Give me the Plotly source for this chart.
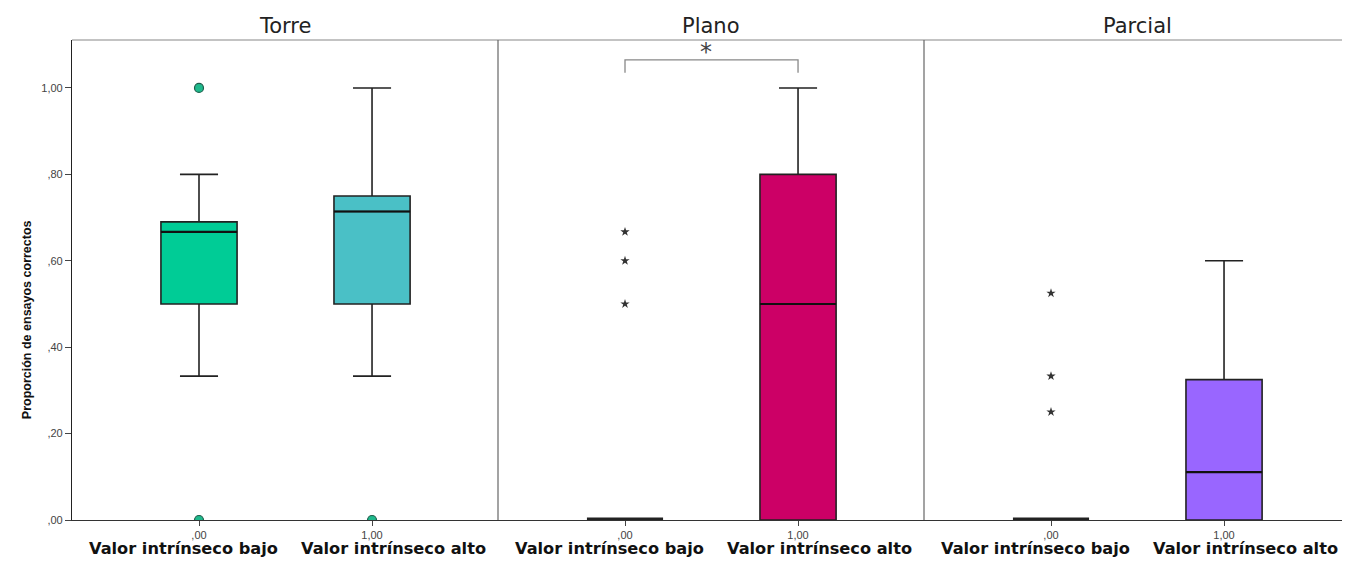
import plotly.graph_objects as go
from plotly.subplots import make_subplots

# ---- data ----
panels = ["Torre", "Plano", "Parcial"]
group_codes = [0, 1]
group_ticks = [",00", "1,00"]
group_names = ["Valor intrínseco bajo", "Valor intrínseco alto"]

# box statistics per panel: [low, high]
q1 = {"Torre": [0.50, 0.50], "Plano": [0.0, 0.0], "Parcial": [0.0, 0.0]}
median = {"Torre": [0.667, 0.714], "Plano": [0.0, 0.50], "Parcial": [0.0, 0.111]}
q3 = {"Torre": [0.69, 0.75], "Plano": [0.0, 0.80], "Parcial": [0.0, 0.325]}
lowerfence = {"Torre": [0.333, 0.333], "Plano": [0.0, 0.0], "Parcial": [0.0, 0.0]}
upperfence = {"Torre": [0.80, 1.00], "Plano": [0.0, 1.00], "Parcial": [0.0, 0.60]}

# outliers (circles) and extremes (stars): list per group
outliers = {"Torre": [[1.0, 0.0], [0.0]], "Plano": [[], []], "Parcial": [[], []]}
extremes = {"Torre": [[], []], "Plano": [[0.667, 0.60, 0.50], []], "Parcial": [[0.525, 0.333, 0.25], []]}

box_colors = {"Torre": ["#00CC96", "#4AC0C6"], "Plano": ["#111111", "#CC0066"], "Parcial": ["#111111", "#9966FF"]}

y_ticks = [0, 0.2, 0.4, 0.6, 0.8, 1.0]
y_ticktext = [",00", ",20", ",40", ",60", ",80", "1,00"]

BOX_W = 0.44
LABEL_SHIFT = [-16, 21]   # pixel offset of the bold group labels

# ---- figure ----
fig = make_subplots(rows=1, cols=3, shared_yaxes=True, horizontal_spacing=0,
                    subplot_titles=panels)

for c, p in enumerate(panels, start=1):
    for g in group_codes:
        flat = q3[p][g] == q1[p][g]
        fig.add_trace(go.Box(
            x=[g], q1=[q1[p][g]], median=[median[p][g]], q3=[q3[p][g]],
            lowerfence=[lowerfence[p][g]], upperfence=[upperfence[p][g]],
            boxpoints=False, width=BOX_W, whiskerwidth=0.5,
            fillcolor=box_colors[p][g],
            line=dict(color="#222222", width=5 if flat else 1.6),
            showlegend=False, hoverinfo="skip"), row=1, col=c)
        if not flat:
            # thicker median line, as in the original
            fig.add_trace(go.Scatter(
                x=[g - BOX_W / 2, g + BOX_W / 2], y=[median[p][g]] * 2,
                mode="lines", line=dict(color="#111111", width=2.2),
                showlegend=False, hoverinfo="skip"), row=1, col=c)
        if outliers[p][g]:
            fig.add_trace(go.Scatter(
                x=[g] * len(outliers[p][g]), y=outliers[p][g], mode="markers",
                marker=dict(symbol="circle", size=9, color="#1FB98C",
                            line=dict(color="#1E5E4C", width=1.2)),
                showlegend=False, hoverinfo="skip"), row=1, col=c)
        if extremes[p][g]:
            fig.add_trace(go.Scatter(
                x=[g] * len(extremes[p][g]), y=extremes[p][g], mode="markers",
                marker=dict(symbol="star", size=7, color="#333333",
                            line=dict(width=0)),
                showlegend=False, hoverinfo="skip"), row=1, col=c)

x_range = [-0.734, 1.728]
for c in range(1, 4):
    fig.update_xaxes(range=x_range, tickvals=group_codes, ticktext=group_ticks,
                     ticks="outside", ticklen=5, tickcolor="#444", tickwidth=1,
                     showline=True, linecolor="#333", linewidth=1.2,
                     showgrid=False, zeroline=False,
                     tickfont=dict(family="Liberation Sans", size=11, color="#444"),
                     row=1, col=c)
    for g in group_codes:
        fig.add_annotation(x=g, y=-0.036, xref=f"x{'' if c == 1 else c}", yref="paper",
                           text=f"<b>{group_names[g]}</b>", showarrow=False,
                           yanchor="top", xshift=LABEL_SHIFT[g],
                           font=dict(family="DejaVu Sans", size=16.2, color="#111"))

fig.update_yaxes(range=[0, 1.111], tickvals=y_ticks, ticktext=y_ticktext,
                 showgrid=False, zeroline=False,
                 tickfont=dict(family="Liberation Sans", size=11, color="#444"))
fig.update_yaxes(showline=True, linecolor="#222", linewidth=1.2,
                 ticks="outside", ticklen=6, tickcolor="#444", row=1, col=1)
fig.update_yaxes(ticks="", row=1, col=2)
fig.update_yaxes(ticks="", row=1, col=3)

# panel titles
for a in fig.layout.annotations[:3]:
    a.font = dict(family="DejaVu Sans", size=21, color="#222")
    a.yshift = 0

# frame: top line and panel dividers
fig.add_shape(type="line", xref="paper", yref="paper", x0=0, x1=1, y0=1, y1=1,
              line=dict(color="#888", width=1.2))
for xd in [fig.layout.xaxis2.domain[0], fig.layout.xaxis3.domain[0]]:
    fig.add_shape(type="line", xref="paper", yref="paper", x0=xd, x1=xd, y0=0, y1=1,
                  line=dict(color="#666", width=1.2))

# significance bracket in Plano
br_y_top, br_y_bot = 1.065, 1.035
fig.add_shape(type="path", xref="x2", yref="y2",
              path=f"M 0,{br_y_bot} L 0,{br_y_top} L 1,{br_y_top} L 1,{br_y_bot}",
              line=dict(color="#888", width=1.3))
fig.add_annotation(x=0.47, y=br_y_top, xref="x2", yref="y2", text="*", showarrow=False,
                   yanchor="bottom", yshift=-8,
                   font=dict(family="DejaVu Sans", size=24, color="#444"))

# y axis title
fig.add_annotation(x=-0.042, y=0.417, xref="paper", yref="paper",
                   text="<b>Proporción de ensayos correctos</b>", textangle=-90,
                   showarrow=False,
                   font=dict(family="Liberation Sans", size=12.5, color="#111"))

fig.update_layout(width=1342, height=554, margin=dict(l=64, r=0, t=32, b=42),
                  plot_bgcolor="white", paper_bgcolor="white")

fig.write_html("out.html")
